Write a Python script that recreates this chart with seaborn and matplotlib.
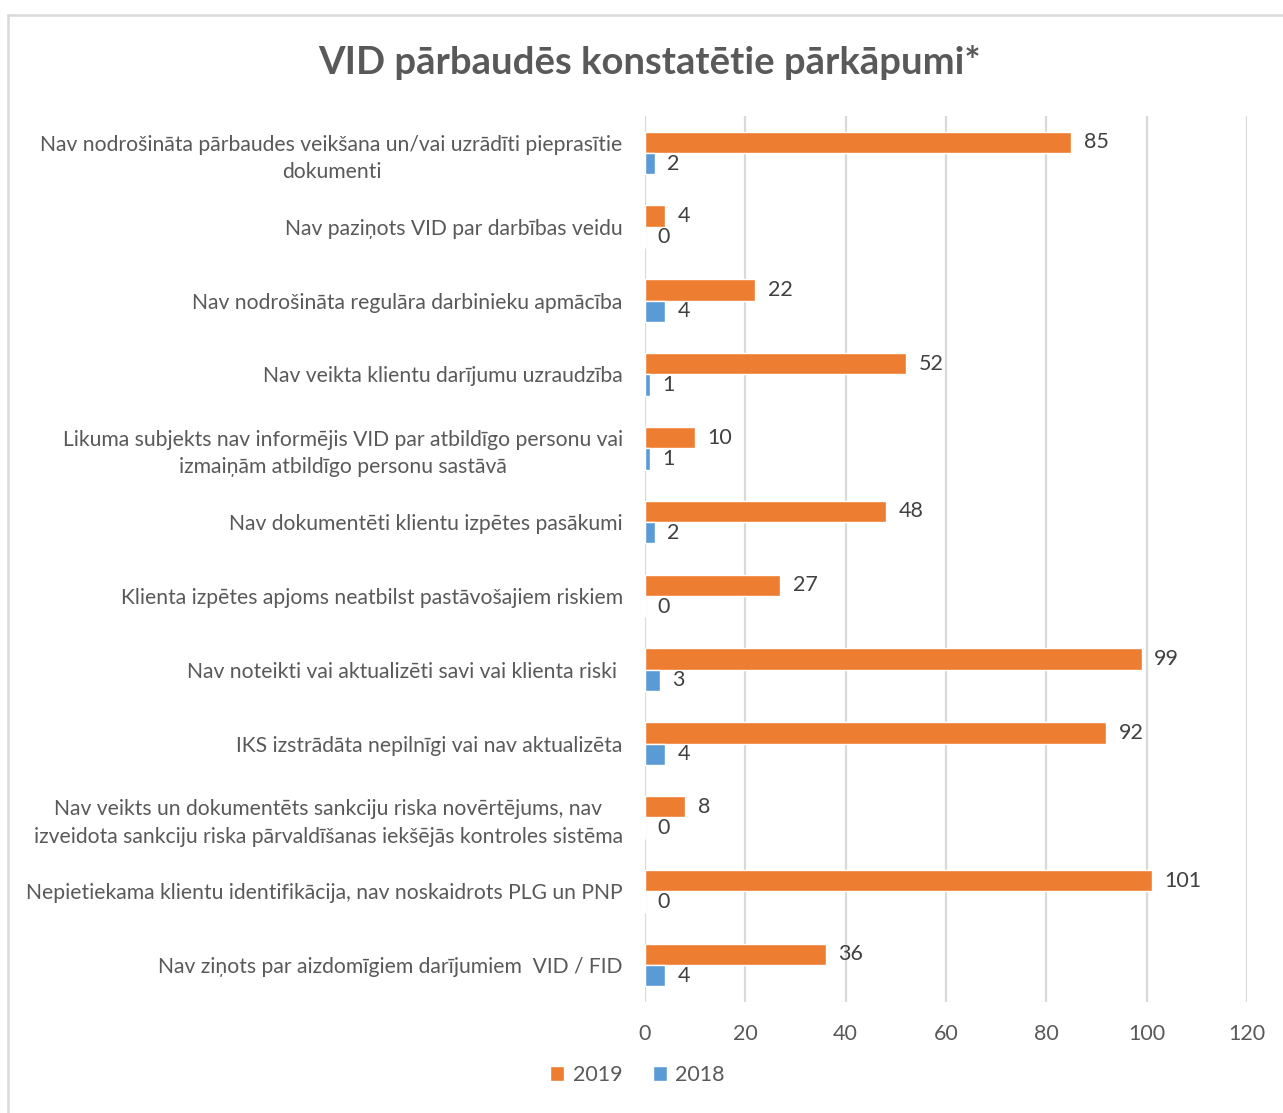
import numpy as np
import pandas as pd
import matplotlib.pyplot as plt
import seaborn as sns
from matplotlib.lines import Line2D

# Dati.
kategorijas = [
    'Nav nodrošināta pārbaudes veikšana un/vai uzrādīti pieprasītie\ndokumenti',
    'Nav paziņots VID par darbības veidu',
    'Nav nodrošināta regulāra darbinieku apmācība',
    'Nav veikta klientu darījumu uzraudzība',
    'Likuma subjekts nav informējis VID par atbildīgo personu vai\nizmaiņām atbildīgo personu sastāvā',
    'Nav dokumentēti klientu izpētes pasākumi',
    'Klienta izpētes apjoms neatbilst pastāvošajiem riskiem',
    'Nav noteikti vai aktualizēti savi vai klienta riski ',
    'IKS izstrādāta nepilnīgi vai nav aktualizēta',
    'Nav veikts un dokumentēts sankciju riska novērtējums, nav\nizveidota sankciju riska pārvaldīšanas iekšējās kontroles sistēma',
    'Nepietiekama klientu identifikācija, nav noskaidrots PLG un PNP',
    'Nav ziņots par aizdomīgiem darījumiem  VID / FID',
]
vertibas_2019 = [85, 4, 22, 52, 10, 48, 27, 99, 92, 8, 101, 36]
vertibas_2018 = [2, 0, 4, 1, 1, 2, 0, 3, 4, 0, 0, 4]
gadi = ['2019', '2018']

df = pd.DataFrame({
    'Kategorija': kategorijas * 2,
    'Gads': ['2019'] * len(kategorijas) + ['2018'] * len(kategorijas),
    'Skaits': vertibas_2019 + vertibas_2018,
})

sns.set_style('white')
plt.rcParams['font.family'] = ['Lato', 'DejaVu Sans']
teksts = '#595959'

fig = plt.figure(figsize=(12.83, 11.13), dpi=100)
ax = fig.add_axes([0.5027, 1 - 1002 / 1113, 0.4692, (1002 - 116) / 1113])

sns.barplot(data=df, y='Kategorija', x='Skaits', hue='Gads', hue_order=gadi,
            palette=['#ED7D31', '#5B9BD5'], orient='h', width=0.58,
            saturation=1, ax=ax, legend=True)

for cont in ax.containers:
    ax.bar_label(cont, padding=9, fontsize=15.5, color='#404040')

ax.set_xlim(0, 120)
ax.set_xticks(np.arange(0, 121, 20))
ax.set_ylim(len(kategorijas) - 0.5, -0.5)
ax.xaxis.grid(True, color='#d9d9d9', linewidth=1.6)
ax.set_axisbelow(True)
for s in ax.spines.values():
    s.set_visible(False)
ax.set_xlabel('')
ax.set_ylabel('')
ax.tick_params(axis='y', length=0, pad=16, labelsize=15.2, labelcolor=teksts)
ax.tick_params(axis='x', length=0, pad=16, labelsize=15.5, labelcolor=teksts)
for lbl in ax.get_yticklabels():
    lbl.set_multialignment('center')
    lbl.set_linespacing(1.45)

handles, labels = ax.get_legend_handles_labels()
ax.get_legend().remove()
fig.legend(handles, labels, loc='center', bbox_to_anchor=(0.497, 1 - 1075 / 1113),
           ncol=2, frameon=False, fontsize=15.5, labelcolor=teksts,
           handlelength=0.65, handleheight=0.65, handletextpad=0.4, columnspacing=1.4)

fig.suptitle('VID pārbaudēs konstatētie pārkāpumi*', x=0.506, y=1 - 62 / 1113,
             fontsize=27.5, fontweight='bold', color=teksts, va='center')

# Rāmis (augšā un kreisajā pusē).
fig.add_artist(Line2D([8 / 1283, 8 / 1283], [0, 1 - 15 / 1113], color='#d9d9d9', lw=1.8))
fig.add_artist(Line2D([8 / 1283, 1], [1 - 15 / 1113, 1 - 15 / 1113], color='#d9d9d9', lw=1.8))

fig.savefig('out.png', dpi=100, facecolor='white')
